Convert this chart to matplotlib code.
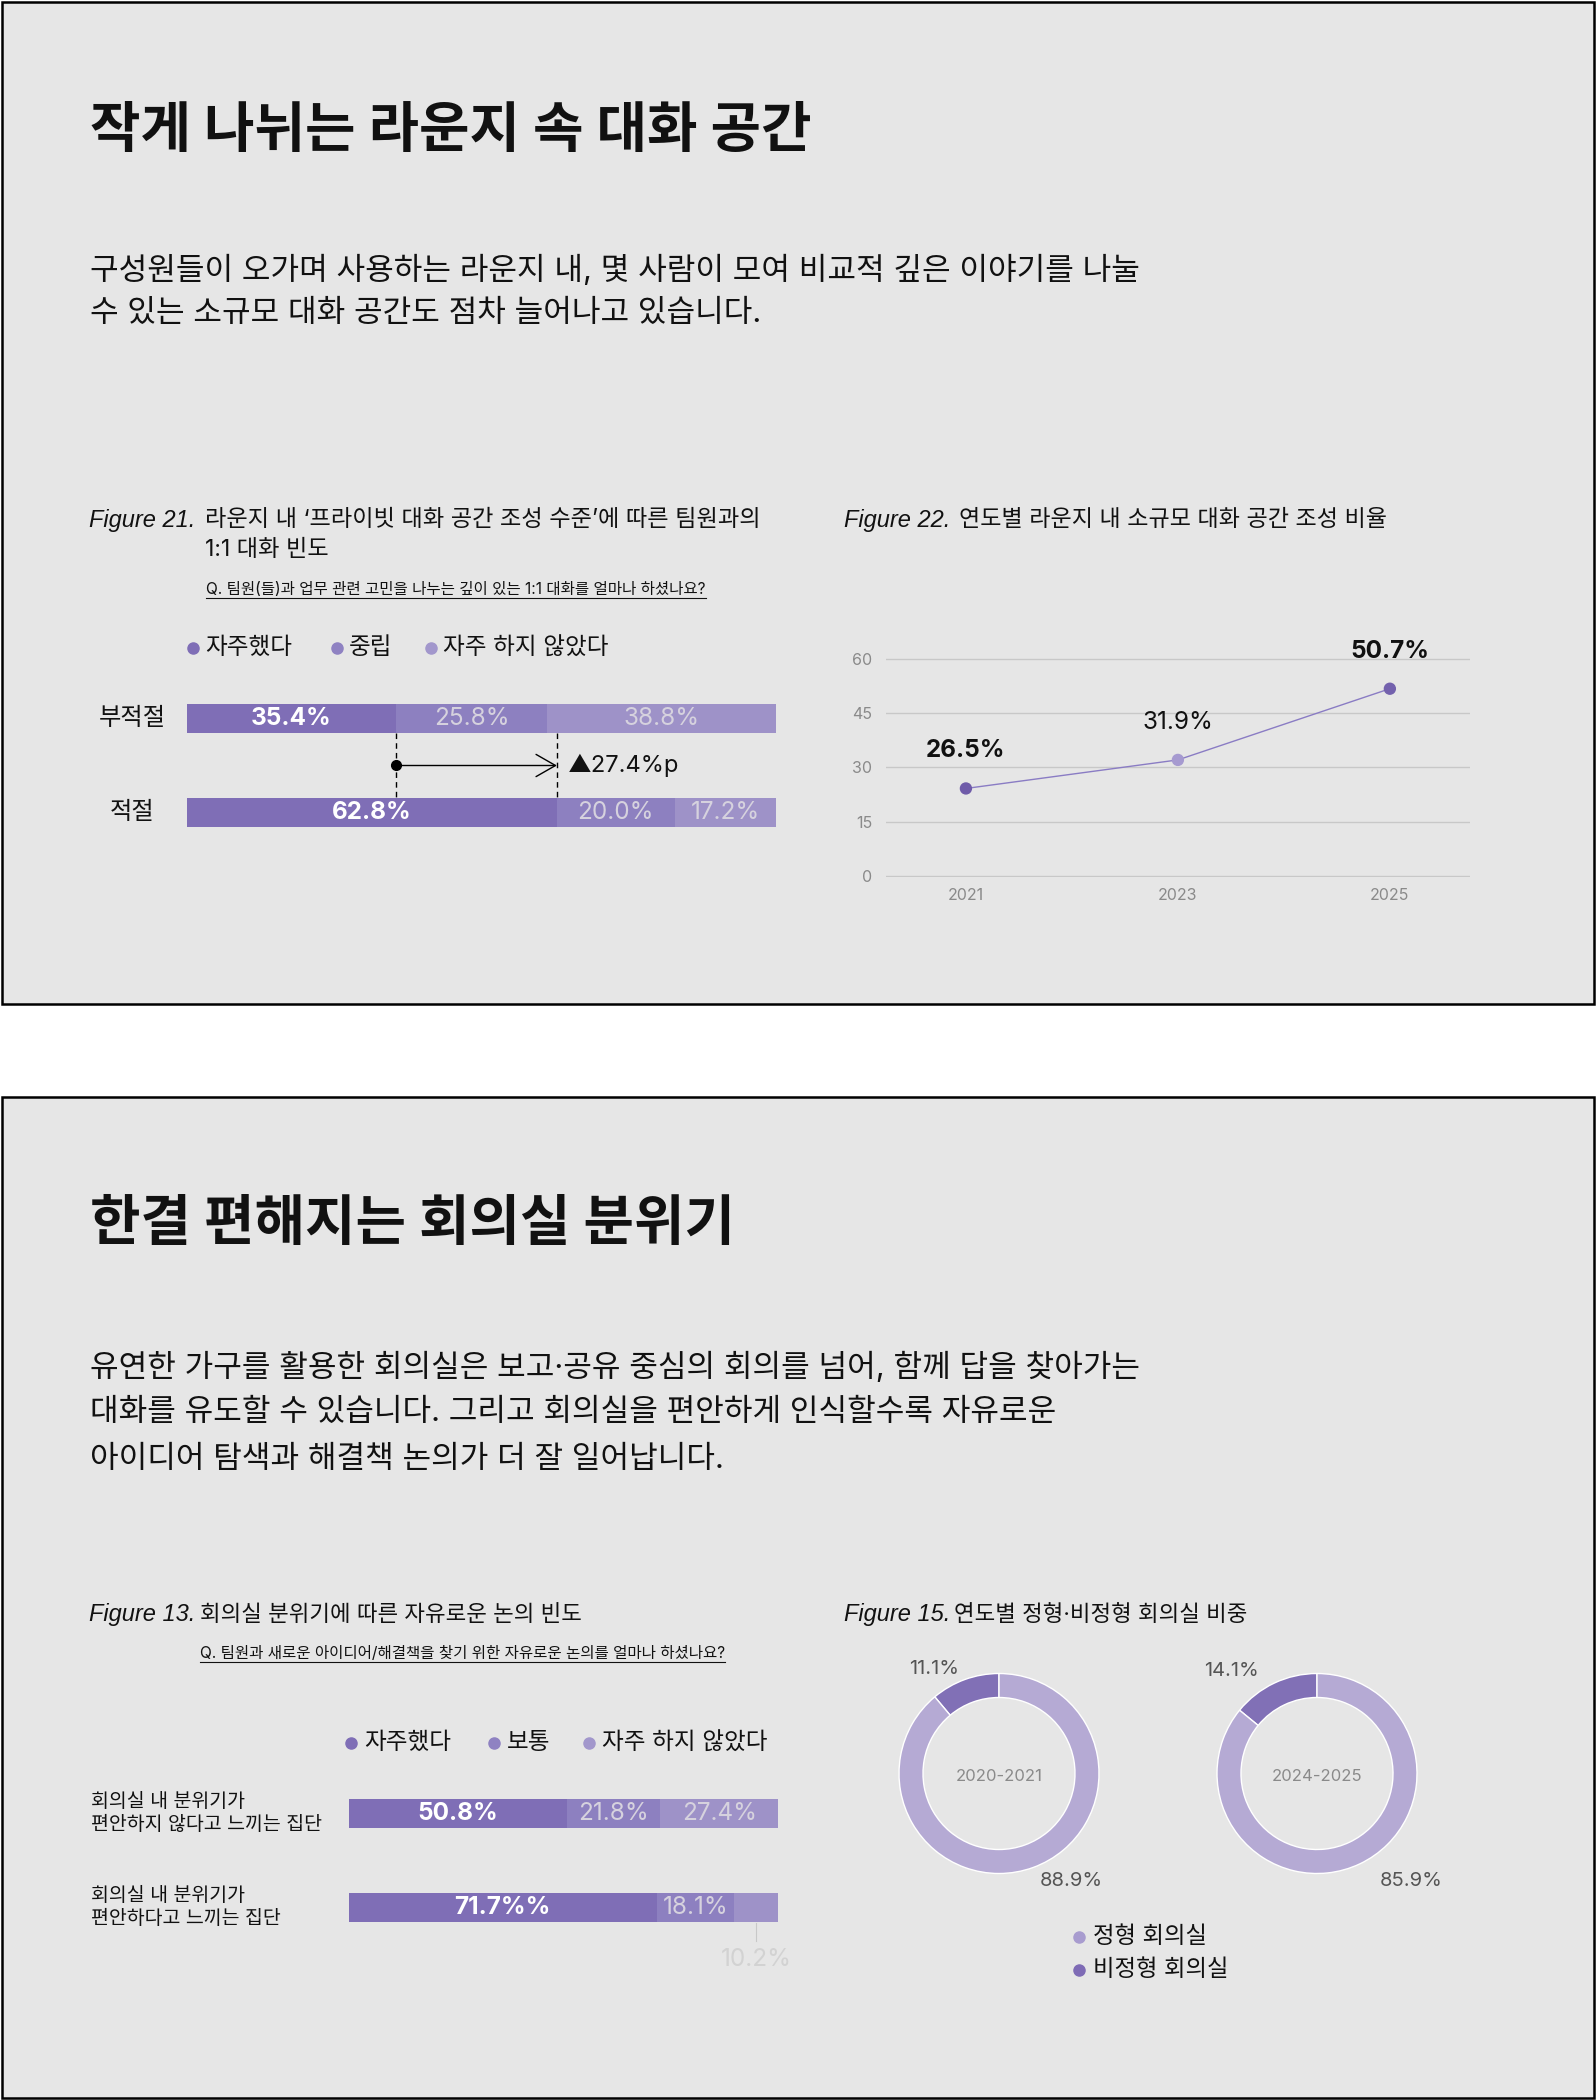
import matplotlib
matplotlib.use("Agg")
import matplotlib.pyplot as plt
import matplotlib.transforms as mtransforms
from matplotlib.patches import Rectangle

plt.rcParams['font.family'] = ['Inter', 'Noto Sans CJK KR', 'DejaVu Sans']

# ---- data ----
# Figure 21
f21_groups = ['부적절', '적절']
f21_series = ['자주했다', '중립', '자주 하지 않았다']
f21_values = [[35.4, 25.8, 38.8], [62.8, 20.0, 17.2]]
f21_diff = '▲27.4%p'

# Figure 22
f22_years = ['2021', '2023', '2025']
f22_values = [24.2, 32.1, 51.8]
f22_labels = ['26.5%', '31.9%', '50.7%']
f22_yticks = [0, 15, 30, 45, 60]

# Figure 13
f13_groups = ['회의실 내 분위기가\n편안하지 않다고 느끼는 집단',
              '회의실 내 분위기가\n편안하다고 느끼는 집단']
f13_series = ['자주했다', '보통', '자주 하지 않았다']
f13_values = [[50.8, 21.8, 27.4], [71.7, 18.1, 10.2]]
f13_labels = [['50.8%', '21.8%', '27.4%'], ['71.7%%', '18.1%', '10.2%']]

# Figure 15
f15_periods = ['2020-2021', '2024-2025']
f15_informal = [11.1, 14.1]
f15_formal = [88.9, 85.9]
f15_series = ['정형 회의실', '비정형 회의실']

# ---- style ----
W, H = 1596, 2100
BG = '#e6e6e6'
BAR_COLORS = ['#7f6eb6', '#8d80c0', '#9e92c8']
LEG_COLORS = ['#7f6eb6', '#8f82c2', '#a297cc']
LIGHT_TXT = '#d6d2de'
DONUT_DARK = '#8170b6'
DONUT_LIGHT = '#b5aad4'

fig = plt.figure(figsize=(W / 100, H / 100), dpi=100)
fig.patch.set_facecolor('white')

# full-size canvas in pixel coords (origin top-left)
cv = fig.add_axes([0, 0, 1, 1])
cv.set_xlim(0, W)
cv.set_ylim(H, 0)
cv.axis('off')


def frac(l, t, r, b):
    return [l / W, 1 - b / H, (r - l) / W, (b - t) / H]


def put(x, y, s, size, **kw):
    kw.setdefault('va', 'center')
    kw.setdefault('color', '#111111')
    return cv.text(x, y, s, fontsize=size, **kw)


# panels
for top, bot in [(1.5, 1003.5), (1096.5, 2098)]:
    cv.add_patch(Rectangle((1.5, top), W - 3.5, bot - top, facecolor=BG,
                           edgecolor='black', lw=1.8, zorder=0))

# headings and body text
put(90, 132, '작게 나뉘는 라운지 속 대화 공간', 39.5, weight='bold')
put(90, 270, '구성원들이 오가며 사용하는 라운지 내, 몇 사람이 모여 비교적 깊은 이야기를 나눌', 22.4)
put(90, 314, '수 있는 소규모 대화 공간도 점차 늘어나고 있습니다.', 22.4)

put(90, 1225, '한결 편해지는 회의실 분위기', 39.5, weight='bold')
put(90, 1367, '유연한 가구를 활용한 회의실은 보고·공유 중심의 회의를 넘어, 함께 답을 찾아가는', 22.4)
put(90, 1413, '대화를 유도할 수 있습니다. 그리고 회의실을 편안하게 인식할수록 자유로운', 22.4)
put(90, 1460, '아이디어 탐색과 해결책 논의가 더 잘 일어납니다.', 22.4)

# figure captions
cap = dict(family='Liberation Sans', style='italic')
put(89, 520, 'Figure 21.', 17, **cap)
put(205, 520, '라운지 내 ‘프라이빗 대화 공간 조성 수준’에 따른 팀원과의', 16.7)
put(205, 550, '1:1 대화 빈도', 16.7)
q21 = put(206, 590, 'Q. 팀원(들)과 업무 관련 고민을 나누는 깊이 있는 1:1 대화를 얼마나 하셨나요?', 11.2)

put(844, 520, 'Figure 22.', 17, **cap)
put(959, 520, '연도별 라운지 내 소규모 대화 공간 조성 비율', 16.6)

put(89, 1615, 'Figure 13.', 17, **cap)
put(200, 1615, '회의실 분위기에 따른 자유로운 논의 빈도', 16.1)
q13 = put(200, 1654, 'Q. 팀원과 새로운 아이디어/해결책을 찾기 위한 자유로운 논의를 얼마나 하셨나요?', 11.2)

put(844, 1615, 'Figure 15.', 17, **cap)
put(954, 1615, '연도별 정형·비정형 회의실 비중', 16.1)

# legends for stacked bars
for name, x, c in zip(f21_series, [193, 337, 431], LEG_COLORS):
    cv.plot(x, 648, 'o', ms=8, color=c)
    put(x + 12, 648, name, 17)
for name, x, c in zip(f13_series, [351, 494, 589], LEG_COLORS):
    cv.plot(x, 1743, 'o', ms=8, color=c)
    put(x + 13, 1743, name, 17)


def stacked(ax, values, labels):
    ax.set_xlim(0, 100)
    ax.set_ylim(1.5, -0.5)
    ax.axis('off')
    ax.patch.set_alpha(0)
    for i, row in enumerate(values):
        left = 0
        for j, v in enumerate(row):
            ax.barh(i, v, left=left, height=0.31, color=BAR_COLORS[j], lw=0)
            lab = labels[i][j]
            if v >= 12:
                ax.text(left + v / 2, i, lab, ha='center', va='center', fontsize=17.5,
                        color='white' if j == 0 else LIGHT_TXT,
                        weight='bold' if j == 0 else 'normal')
            else:
                xm = left + v / 2
                ax.plot([xm, xm], [i + 0.165, i + 0.36], color='#c8c8c8', lw=0.8, clip_on=False)
                ax.text(xm, i + 0.55, lab, ha='center', va='center', fontsize=17.5,
                        color='#d2d2d2', clip_on=False)
            left += v


# Figure 21 bars
ax21 = fig.add_axes(frac(187, 671.5, 776, 859.5))
stacked(ax21, f21_values, [[f'{v:.1f}%' for v in r] for r in f21_values])
tr = mtransforms.blended_transform_factory(ax21.transAxes, ax21.transData)
for i, g in enumerate(f21_groups):
    ax21.text(-0.0934, i, g, transform=tr, ha='center', va='center', fontsize=17.5, color='#111111')
x1, x2 = f21_values[0][0], f21_values[1][0]
for x in (x1, x2):
    ax21.plot([x, x], [0.155, 0.845], color='black', lw=1, ls=(0, (4, 3)))
ax21.plot(x1, 0.5, 'o', color='black', ms=7)
ax21.annotate('', xy=(x2, 0.5), xytext=(x1, 0.5),
              arrowprops=dict(arrowstyle='->,head_length=1.4,head_width=0.8', lw=1,
                              color='black', shrinkA=0, shrinkB=0, mutation_scale=10))
ax21.text(x2 + 1.8, 0.5, f21_diff, ha='left', va='center', fontsize=17, color='#111111')

# Figure 13 bars
ax13 = fig.add_axes(frac(349, 1766.5, 778, 1954.5))
stacked(ax13, f13_values, f13_labels)
tr = mtransforms.blended_transform_factory(ax13.transAxes, ax13.transData)
for i, g in enumerate(f13_groups):
    ax13.text(-0.601, i, g, transform=tr, ha='left', va='center', fontsize=14,
              linespacing=1.3, color='#111111')

# Figure 22 line chart
ax22 = fig.add_axes(frac(886, 658, 1470, 877))
ax22.patch.set_alpha(0)
xs = list(range(len(f22_years)))
ax22.plot(xs, f22_values, color='#8a7cc4', lw=1, zorder=2)
ax22.scatter(xs, f22_values, s=62, color=['#6f5ba9', '#a69ad0', '#7361ad'], zorder=3)
for x, v, lab, w in zip(xs, f22_values, f22_labels, ['bold', 'normal', 'bold']):
    ax22.annotate(lab, (x, v), xytext=(0, 27), textcoords='offset points',
                  ha='center', va='center', fontsize=17.5, weight=w, color='#111111')
ax22.set_xlim(-0.377, 2.378)
ax22.set_ylim(-0.3, 60.3)
ax22.set_yticks(f22_yticks)
ax22.set_xticks(xs)
ax22.set_xticklabels(f22_years)
ax22.grid(axis='y', color='#c8c8c8', lw=1)
ax22.set_axisbelow(True)
for s in ax22.spines.values():
    s.set_visible(False)
ax22.tick_params(length=0, labelsize=11.5, labelcolor='#8a8a8a')
ax22.tick_params(axis='y', pad=10)
ax22.tick_params(axis='x', pad=8)

# Figure 15 donuts
small_pos = [(-0.65, 1.04), (-0.86, 1.03)]
big_pos = [(0.72, -1.08), (0.94, -1.07)]
for k, cx in enumerate([999, 1317]):
    cy = 1773.5
    ax = fig.add_axes(frac(cx - 105, cy - 105, cx + 105, cy + 105))
    ax.pie([f15_informal[k], f15_formal[k]], colors=[DONUT_DARK, DONUT_LIGHT],
           startangle=90, counterclock=True, radius=1,
           wedgeprops=dict(width=0.24, edgecolor='white', linewidth=1))
    ax.set_xlim(-1.05, 1.05)
    ax.set_ylim(-1.05, 1.05)
    ax.text(0, -0.03, f15_periods[k], ha='center', va='center', fontsize=12, color='#8a8a8a')
    ax.text(*small_pos[k], f'{f15_informal[k]}%', ha='center', va='center',
            fontsize=14.5, color='#555555', clip_on=False)
    ax.text(*big_pos[k], f'{f15_formal[k]}%', ha='center', va='center',
            fontsize=14.5, color='#555555', clip_on=False)

for name, y, c in zip(f15_series, [1937, 1970], ['#a89ccf', '#7e6bb5']):
    cv.plot(1079, y, 'o', ms=8, color=c)
    put(1093, y, name, 16.8)

# underline the question lines
fig.canvas.draw()
renderer = fig.canvas.get_renderer()
for t, y in [(q21, 598), (q13, 1662)]:
    bb = t.get_window_extent(renderer)
    cv.plot([bb.x0, bb.x1], [y, y], color='#111111', lw=0.8)

fig.savefig('out.png', dpi=100)
